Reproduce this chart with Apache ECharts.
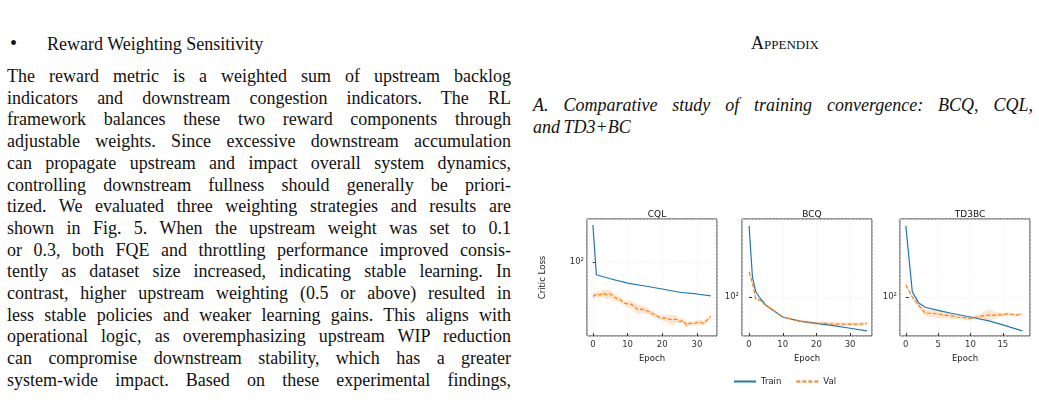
<!DOCTYPE html>
<html>
<head>
<meta charset="utf-8">
<script src="https://cdn.jsdelivr.net/npm/echarts@6/dist/echarts.min.js"></script>
<style>
  body { margin:0; width:1039px; height:418px; overflow:hidden; background:#fff; font-family:"Liberation Serif", serif; color:#111; }
  .ln { position:absolute; left:7px; width:504px; font-size:18px; line-height:21.7px; word-spacing:-1px; text-align:justify; text-align-last:justify; white-space:nowrap; }
  .last { text-align-last:left; }
  #chart { position:absolute; left:530px; top:200px; width:509px; height:190px; }
</style>
</head>
<body>
<div style="position:absolute;left:10px;top:32px;font-size:20px;">•</div>
<div style="position:absolute;left:47px;top:34px;font-size:18px;">Reward Weighting Sensitivity</div>
<div id="para"></div>
<div style="position:absolute;left:700px;width:170px;text-align:center;top:33px;font-size:18px;font-variant:small-caps;">Appendix</div>
<div class="ln" style="left:533px;width:500px;top:95px;font-style:italic;">A. Comparative study of training convergence: BCQ, CQL,</div>
<div class="ln last" style="left:533px;width:500px;top:117px;font-style:italic;">and TD3+BC</div>
<div id="chart"></div>
<script>
const paraLines = [
  "The reward metric is a weighted sum of upstream backlog",
  "indicators and downstream congestion indicators. The RL",
  "framework balances these two reward components through",
  "adjustable weights. Since excessive downstream accumulation",
  "can propagate upstream and impact overall system dynamics,",
  "controlling downstream fullness should generally be priori-",
  "tized. We evaluated three weighting strategies and results are",
  "shown in Fig. 5. When the upstream weight was set to 0.1",
  "or 0.3, both FQE and throttling performance improved consis-",
  "tently as dataset size increased, indicating stable learning. In",
  "contrast, higher upstream weighting (0.5 or above) resulted in",
  "less stable policies and weaker learning gains. This aligns with",
  "operational logic, as overemphasizing upstream WIP reduction",
  "can compromise downstream stability, which has a greater",
  "system-wide impact. Based on these experimental findings,"
];
const para = document.getElementById('para');
paraLines.forEach((t, i) => {
  const d = document.createElement('div');
  d.className = 'ln';
  d.style.top = (66 + i * 21.7) + 'px';
  d.textContent = t;
  para.appendChild(d);
});

const titles = ['CQL', 'BCQ', 'TD3BC'];

// CQL
const cqlTrainX = [0, 1, 5, 10, 15, 20, 25, 30, 34];
const cqlTrainY = [257, 72, 65, 58, 54, 50, 46, 44, 42];
const cqlValY = [41.2, 43.8, 43.0, 44.9, 43.0, 44.1, 41.2, 38.8, 37.8, 34.8, 34.1, 33.9, 31.9, 29.3, 29.8, 29.3,
  28.1, 26.9, 25.8, 24.3, 23.7, 23.7, 23.1, 22.7, 23.1, 21.7, 22.3, 20.0, 20.8, 20.5, 21.2, 21.2, 20.8, 22.7, 24.7];
const cqlSpread = [1.07, 1.07, 1.08, 1.1, 1.14, 1.12, 1.1, 1.08, 1.08, 1.07, 1.08, 1.1, 1.1, 1.14, 1.1, 1.1,
  1.08, 1.08, 1.07, 1.06, 1.06, 1.08, 1.12, 1.14, 1.1, 1.06, 1.08, 1.08, 1.06, 1.06, 1.06, 1.07, 1.06, 1.06, 1.05];

// BCQ
const bcqTrainX = [0, 1, 2, 3, 5, 10, 15, 20, 25, 30, 35];
const bcqTrainY = [616, 167, 114, 100, 81, 60, 54, 51, 48, 45, 42];
const bcqValX = [0, 1, 2, 3, 5, 10, 15, 18, 20, 22, 25, 28, 30, 33, 35];
const bcqValY = [190, 143, 95, 93, 81, 60, 54, 52, 51, 51, 50, 50, 50, 50, 51];
const bcqSpread = [1.03, 1.03, 1.03, 1.02, 1.02, 1.02, 1.03, 1.04, 1.04, 1.06, 1.05, 1.04, 1.04, 1.04, 1.04];

// TD3BC
const tdTrainX = [0, 1, 2, 3, 5, 7, 10, 13, 15, 18];
const tdTrainY = [616, 114, 86, 77, 71, 66, 60, 54, 49, 42];
const tdValX = [0, 1, 2, 3, 4, 5, 6, 7, 8, 9, 10, 11, 12, 13, 14, 15, 16, 17, 18];
const tdValY = [136, 100, 81, 66, 66, 65, 63, 62, 60, 59, 58, 60, 62, 63, 63, 64, 65, 63, 65];
const tdSpread = [1.03, 1.04, 1.06, 1.08, 1.1, 1.12, 1.1, 1.08, 1.06, 1.05, 1.05, 1.06, 1.1, 1.15, 1.08, 1.05, 1.04, 1.04, 1.03];

const xRanges = [[-1.7, 35.8], [-2.1, 36.5], [-0.9, 19.2]];
const yRanges = [[15, 300], [36.9, 735], [36.9, 735]];
const gridLefts = [57, 212, 370];

const panels = [
  { train: cqlTrainX.map((x, i) => [x, cqlTrainY[i]]), val: cqlValY.map((y, i) => [i, y]), spread: cqlSpread },
  { train: bcqTrainX.map((x, i) => [x, bcqTrainY[i]]), val: bcqValX.map((x, i) => [x, bcqValY[i]]), spread: bcqSpread },
  { train: tdTrainX.map((x, i) => [x, tdTrainY[i]]), val: tdValX.map((x, i) => [x, tdValY[i]]), spread: tdSpread }
];

const blue = '#1f77b4', orange = '#ff7f0e';
const small = { fontFamily: 'DejaVu Sans', fontSize: 8.5, color: '#333' };

const grids = [], xAxes = [], yAxes = [], series = [], titleOpts = [];
panels.forEach((p, k) => {
  grids.push({ left: gridLefts[k], top: 19, width: 130, height: 117, show: true, borderColor: '#333', borderWidth: 1 });
  titleOpts.push({ text: titles[k], left: gridLefts[k] + 65, top: 5, textAlign: 'center',
    textStyle: { fontFamily: 'DejaVu Sans', fontSize: 9, fontWeight: 'normal', color: '#111' } });
  xAxes.push({
    type: 'value', gridIndex: k, min: xRanges[k][0], max: xRanges[k][1], splitNumber: 4,
    name: 'Epoch', nameLocation: 'middle', nameGap: 13, nameTextStyle: { fontFamily: 'DejaVu Sans', fontSize: 8.5, color: '#222' },
    axisLine: { show: false }, axisTick: { inside: true, length: 3, lineStyle: { color: '#333' } },
    axisLabel: Object.assign({ margin: 4, showMinLabel: false, showMaxLabel: false }, small),
    splitLine: { show: true, lineStyle: { color: '#eee', type: 'dashed', width: 0.6 } }
  });
  yAxes.push({
    type: 'log', logBase: 10, gridIndex: k, min: yRanges[k][0], max: yRanges[k][1],
    axisLine: { show: false }, axisTick: { inside: true, length: 3, lineStyle: { color: '#333' } },
    axisLabel: Object.assign({ margin: 3, showMinLabel: false, showMaxLabel: false,
      formatter: v => Math.abs(v - 100) < 1e-6 ? '10²' : '' }, small),
    splitLine: { show: true, lineStyle: { color: '#eee', type: 'dashed', width: 0.6 } },
    name: k === 0 ? 'Critic Loss' : '', nameLocation: 'middle', nameGap: 40,
    nameTextStyle: { fontFamily: 'DejaVu Sans', fontSize: 8.5, color: '#222' }
  });
  const hi = p.val.map((d, i) => [d[0], d[1] * p.spread[i]]);
  const lo = p.val.map((d, i) => [d[0], d[1] / p.spread[i]]);
  series.push({
    type: 'custom', xAxisIndex: k, yAxisIndex: k, silent: true, z: 1,
    data: [[0, 0]],
    renderItem: (params, api) => {
      const pts = hi.map(d => api.coord(d)).concat(lo.slice().reverse().map(d => api.coord(d)));
      return { type: 'polygon', shape: { points: pts }, style: { fill: 'rgba(255,127,14,0.2)' } };
    }
  });
  series.push({ name: 'Train', type: 'line', xAxisIndex: k, yAxisIndex: k, data: p.train, symbol: 'none',
    lineStyle: { color: blue, width: 1.2 }, itemStyle: { color: blue }, z: 3 });
  series.push({ name: 'Val', type: 'line', xAxisIndex: k, yAxisIndex: k, data: p.val, symbol: 'none',
    lineStyle: { color: orange, width: 1.2, type: [4, 2] }, itemStyle: { color: orange }, z: 3 });
});

const chart = echarts.init(document.getElementById('chart'));
chart.setOption({
  animation: false,
  title: titleOpts,
  grid: grids, xAxis: xAxes, yAxis: yAxes, series: series,
  legend: { data: ['Train', 'Val'], left: 'center', top: 172, itemWidth: 22, itemHeight: 8, itemGap: 14,
    itemStyle: { opacity: 0 },
    textStyle: { fontFamily: 'DejaVu Sans', fontSize: 8.5, color: '#222' } }
});
</script>
</body>
</html>
